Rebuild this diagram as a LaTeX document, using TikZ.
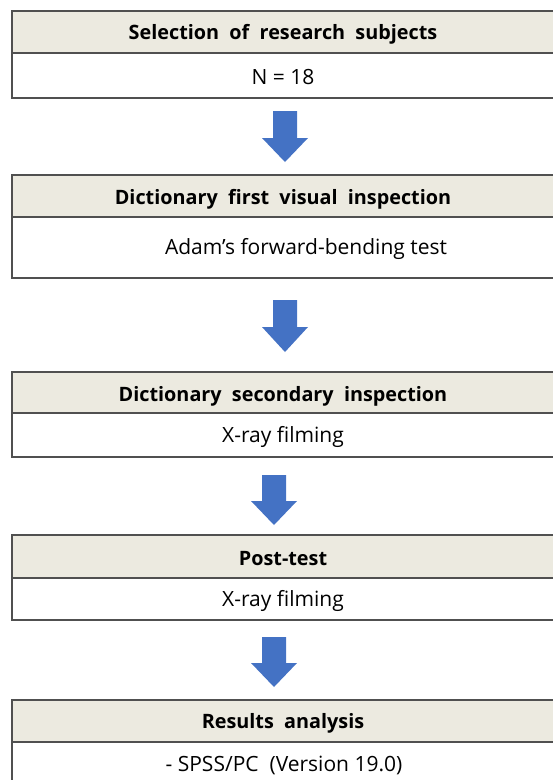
\documentclass[tikz,border=0pt]{standalone}
\usepackage{fontspec}
\setmainfont{Open Sans}
\usetikzlibrary{shapes.arrows}
\definecolor{hdr}{HTML}{ECEAE0}
\definecolor{brd}{HTML}{505050}
\definecolor{arr}{HTML}{4472C4}
\begin{document}
\begin{tikzpicture}[x=1pt,y=-1pt,
  hbox/.style={draw=brd,line width=1.6pt,fill=hdr},
  bbox/.style={draw=brd,line width=1.6pt,fill=white},
  htext/.style={font=\fontsize{19.8}{22}\selectfont\bfseries,anchor=center},
  btext/.style={font=\fontsize{21}{24}\selectfont,anchor=center},
  darrow/.style={fill=arr,draw=none}]
\useasboundingbox (0,0) rectangle (553,780);
\begin{scope}
\clip (0,0) rectangle (553,780);
% box 1
\path[hbox] (12,11) rectangle (560,53);
\path[bbox] (12,53) rectangle (560,98);
\node[htext] (h1) at (283,34) {Selection\ \ of\ \ research\ \ subjects};
\node[btext] (b1) at (283,77) {N = 18};
% arrow 1
\fill[darrow] (273,111) -- (297,111) -- (297,138) -- (308,138) -- (285,162) -- (262,138) -- (273,138) -- cycle;
% box 2
\path[hbox] (12,175) rectangle (560,217);
\path[bbox] (12,217) rectangle (560,278);
\node[htext] (h2) at (283,199) {Dictionary\ \ first\ \ visual\ \ inspection};
\node[btext] (b2) at (306,249) {Adam{\char"27}s forward-bending test};
% arrow 2
\fill[darrow] (273,300) -- (297,300) -- (297,327) -- (308,327) -- (285,352) -- (262,327) -- (273,327) -- cycle;
% box 3
\path[hbox] (12,372) rectangle (560,413);
\path[bbox] (12,413) rectangle (560,457);
\node[htext] (h3) at (283,396) {Dictionary\ \ secondary\ \ inspection};
\node[btext] (b3) at (283,437) {X-ray filming};
% arrow 3
\fill[darrow] (262,475) -- (286,475) -- (286,501) -- (297,501) -- (274,525) -- (251,501) -- (262,501) -- cycle;
% box 4
\path[hbox] (12,535) rectangle (560,578);
\path[bbox] (12,578) rectangle (560,620);
\node[htext] (h4) at (283,559) {Post-test};
\node[btext] (b4) at (283,601) {X-ray filming};
% arrow 4
\fill[darrow] (262,637) -- (286,637) -- (286,663) -- (297,663) -- (274,687) -- (251,663) -- (262,663) -- cycle;
% box 5
\path[hbox] (12,700) rectangle (560,742);
\path[bbox] (12,742) rectangle (560,800);
\node[htext] (h5) at (283,723) {Results\ \ analysis};
\node[btext] (b5) at (284,765) {- SPSS/PC\ \ (Version 19.0)};
\end{scope}
\end{tikzpicture}
\end{document}
